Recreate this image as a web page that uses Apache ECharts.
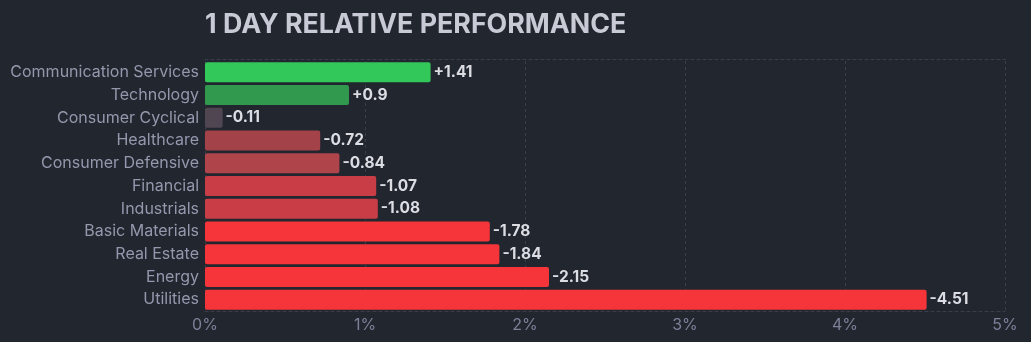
<!DOCTYPE html>
<html><head><meta charset="utf-8">
<script src="https://cdn.jsdelivr.net/npm/echarts@6/dist/echarts.min.js"></script>
<style>html,body{margin:0;padding:0;background:#22262f;}#c{width:1031px;height:342px;}</style>
</head><body><div id="c"></div>
<script>
const categories = ["Communication Services","Technology","Consumer Cyclical","Healthcare","Consumer Defensive","Financial","Industrials","Basic Materials","Real Estate","Energy","Utilities"];
const changes = [1.41,0.9,-0.11,-0.72,-0.84,-1.07,-1.08,-1.78,-1.84,-2.15,-4.51];
const barColors = ["#32c85a","#30994e","#4f4652","#a4424a","#b0444b","#c93e46","#c93e46","#f6353a","#f6353a","#f6353a","#f6353a"];
const xTicks = [0,1,2,3,4,5];

const chart = echarts.init(document.getElementById('c'));
const gridLine = {color:'#3a3e4a', type:[3,3], width:1};
chart.setOption({
  backgroundColor:'#22262f',
  animation:false,
  title:{text:'1 DAY RELATIVE PERFORMANCE', left:200, top:6,
    textStyle:{color:'#c8cad5', fontFamily:'Inter', fontWeight:'bold', fontSize:26.8}},
  grid:{left:205, right:26, top:61, bottom:31, containLabel:false},
  xAxis:[{type:'value', min:xTicks[0], max:xTicks[xTicks.length-1], interval:1,
    axisLine:{show:true, lineStyle:gridLine}, axisTick:{show:false},
    splitLine:{show:true, lineStyle:gridLine},
    axisLabel:{color:'#7d8097', fontFamily:'Inter', fontSize:16, margin:6, formatter:v=>v+'%'}},
   {type:'value', position:'top', min:0, max:5, interval:1, offset:2,
    axisLine:{show:true, lineStyle:gridLine}, axisTick:{show:false}, splitLine:{show:false}, axisLabel:{show:false}}],
  yAxis:{type:'category', data:categories, inverse:true,
    axisLine:{show:false}, axisTick:{show:false}, splitLine:{show:false},
    axisLabel:{color:'#9598ad', fontFamily:'Inter', fontSize:16, margin:6}},
  series:[{type:'bar', barWidth:20,
    data:changes.map((v,i)=>({value:Math.abs(v), itemStyle:{color:barColors[i], borderRadius:2},
      label:{formatter:(v>0?'+':'')+v}})),
    label:{show:true, position:'right', distance:3, color:'#dcdde3', fontFamily:'Inter', fontWeight:'bold', fontSize:15.5}
  }]
});
</script></body></html>
